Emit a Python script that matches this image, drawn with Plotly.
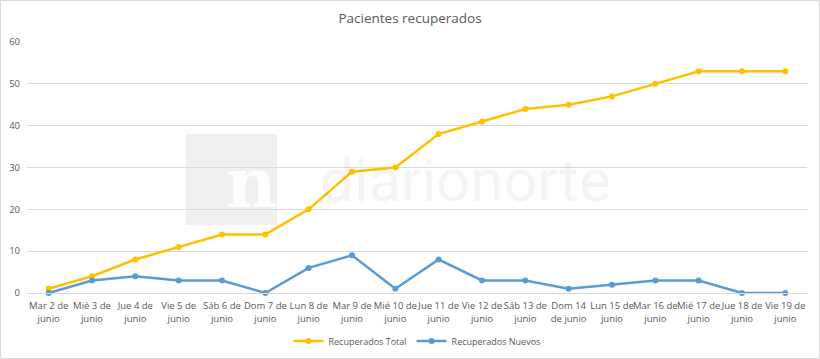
import plotly.graph_objects as go

categories = ["Mar 2 de<br>junio", "Mié 3 de<br>junio", "Jue 4 de<br>junio", "Vie 5 de<br>junio",
              "Sáb 6 de<br>junio", "Dom 7 de<br>junio", "Lun 8 de<br>junio", "Mar 9 de<br>junio",
              "Mié 10 de<br>junio", "Jue 11 de<br>junio", "Vie 12 de<br>junio", "Sáb 13 de<br>junio",
              "Dom 14<br>de junio", "Lun 15 de<br>junio", "Mar 16 de<br>junio", "Mié 17 de<br>junio",
              "Jue 18 de<br>junio", "Vie 19 de<br>junio"]
recuperados_total = [1, 4, 8, 11, 14, 14, 20, 29, 30, 38, 41, 44, 45, 47, 50, 53, 53, 53]
recuperados_nuevos = [0, 3, 4, 3, 3, 0, 6, 9, 1, 8, 3, 3, 1, 2, 3, 3, 0, 0]
y_ticks = [0, 10, 20, 30, 40, 50, 60]

FONT = "Open Sans"
GRAY = "#595959"
W, H = 820, 359
ML, MR, MT, MB = 27, 13, 42, 66
PW, PH = W - ML - MR, H - MT - MB

fig = go.Figure()
fig.add_trace(go.Scatter(x=categories, y=recuperados_total, mode="lines+markers",
                         name="Recuperados Total",
                         line=dict(color="#FFC000", width=2.5),
                         marker=dict(size=6, color="#FFC000"), cliponaxis=False))
fig.add_trace(go.Scatter(x=categories, y=recuperados_nuevos, mode="lines+markers",
                         name="Recuperados Nuevos",
                         line=dict(color="#5B9BD5", width=2.5),
                         marker=dict(size=6, color="#5B9BD5"), cliponaxis=False))

def px_x(x):
    return (x - ML) / PW

def px_y(y):
    return (H - MB - y) / PH

fig.update_layout(
    width=W, height=H,
    margin=dict(l=ML, r=MR, t=MT, b=MB),
    paper_bgcolor="white", plot_bgcolor="white",
    title=dict(text="Pacientes recuperados", x=0.5, xanchor="center",
               y=1 - 18 / H, yanchor="middle", yref="container",
               font=dict(family=FONT, size=13.5, color=GRAY)),
    font=dict(family=FONT, size=9.5, color=GRAY),
    showlegend=True,
    legend=dict(orientation="h", x=0.5, xanchor="center", y=1 - 341 / H, yanchor="middle",
                yref="container", font=dict(family=FONT, size=9, color=GRAY), itemwidth=30),
    xaxis=dict(type="category", range=[-0.5, len(categories) - 0.5], showgrid=False,
               showline=True, linecolor="#D9D9D9",
               automargin=False, ticks="", ticklabelstandoff=4,
               tickfont=dict(family=FONT, size=9.5, color=GRAY), tickangle=0),
    yaxis=dict(range=[0, 60], tickvals=y_ticks, showgrid=True, gridcolor="#D9D9D9",
               automargin=False, zeroline=False, showline=False, ticks="", ticklabelstandoff=6,
               tickfont=dict(family=FONT, size=9.5, color=GRAY)),
    shapes=[
        dict(type="rect", xref="paper", yref="paper", x0=px_x(0.5), x1=px_x(W - 0.5),
             y0=px_y(H - 0.5), y1=px_y(0.5), line=dict(color="#D9D9D9", width=1)),
        dict(type="rect", xref="paper", yref="paper", layer="below", x0=px_x(186), x1=px_x(277),
             y0=px_y(225), y1=px_y(134), fillcolor="#F0F0F0", line=dict(width=0)),
    ],
    annotations=[
        dict(text="<b>n</b>", xref="paper", yref="paper", x=px_x(224), y=px_y(182),
             showarrow=False, font=dict(family="DejaVu Serif", size=70, color="rgba(255,255,255,0.9)")),
        dict(text="diarionorte", xref="paper", yref="paper", x=px_x(465), y=px_y(180),
             showarrow=False,
             font=dict(family="Roboto", size=60, color="rgba(0,0,0,0.045)")),
    ],
)

fig.write_html("out.html", config={"displayModeBar": False},
               post_script="document.body.style.margin='0';")
